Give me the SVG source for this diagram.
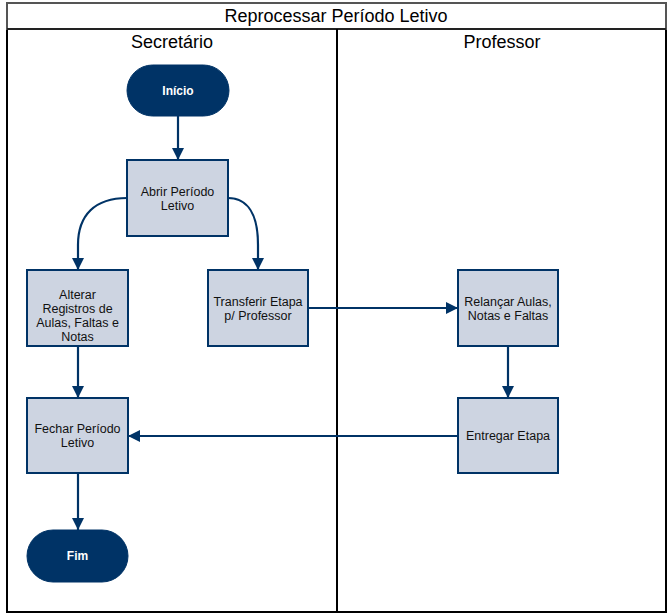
<svg xmlns="http://www.w3.org/2000/svg" width="669" height="615" viewBox="0 0 669 615">
<defs>
<marker id="arr" markerWidth="12" markerHeight="12" refX="12" refY="6" orient="auto" markerUnits="userSpaceOnUse">
<path d="M0,0 L12,6 L0,12 Z" fill="#003366"/>
</marker>
<style>
.lane{fill:none;stroke:#000;stroke-width:2}
.ttl{font-family:"Liberation Sans",Arial,sans-serif;font-size:18px;fill:#000;text-anchor:middle}
.box{fill:#CDD4E1;stroke:#003366;stroke-width:2}
.term{fill:#003366;stroke:#003366;stroke-width:1}
.t{font-family:"Liberation Sans",Arial,sans-serif;font-size:12.5px;fill:#111;text-anchor:middle}
.tw{font-family:"Liberation Sans",Arial,sans-serif;font-size:12px;font-weight:bold;fill:#fff;text-anchor:middle}
.c{fill:none;stroke:#003366;stroke-width:2.2;marker-end:url(#arr)}
</style>
</defs>
<rect x="0" y="0" width="669" height="615" fill="#fff"/>
<g id="pool">
<rect x="7" y="3" width="659" height="609" class="lane"/>
<rect x="7" y="3" width="659" height="26" fill="none" stroke="#555" stroke-width="2"/>
<line x1="7" y1="29" x2="666" y2="29" stroke="#222" stroke-width="2"/>
<line x1="337" y1="29" x2="337" y2="612" stroke="#000" stroke-width="2"/>
<text x="336" y="22" class="ttl">Reprocessar Período Letivo</text>
<text x="172" y="48" class="ttl">Secretário</text>
<text x="502" y="48" class="ttl">Professor</text>
</g>
<g id="connectors">
<path class="c" d="M178,116 L178,160"/>
<path class="c" d="M127,198 C95,198 78,215 78,245 L78,270"/>
<path class="c" d="M228,198 C248,198 258,215 258,245 L258,270"/>
<path class="c" d="M308,308 L458,308"/>
<path class="c" d="M508,346 L508,398"/>
<path class="c" d="M458,436 L128,436"/>
<path class="c" d="M78,346 L78,398"/>
<path class="c" d="M78,473 L78,530"/>
</g>
<g id="inicio">
<rect x="127" y="65" width="102" height="51" rx="25.5" class="term"/>
<text x="178" y="95" class="tw">Início</text>
</g>
<g id="abrir">
<rect x="127" y="160" width="101" height="76" class="box"/>
<text x="177.5" y="196" class="t">Abrir Período</text>
<text x="177.5" y="210" class="t">Letivo</text>
</g>
<g id="alterar">
<rect x="27" y="270" width="101" height="76" class="box"/>
<text x="77.5" y="299" class="t">Alterar</text>
<text x="77.5" y="313" class="t">Registros de</text>
<text x="77.5" y="327" class="t">Aulas, Faltas e</text>
<text x="77.5" y="341" class="t">Notas</text>
</g>
<g id="transferir">
<rect x="208" y="270" width="100" height="76" class="box"/>
<text x="258" y="306" class="t">Transferir Etapa</text>
<text x="258" y="320" class="t">p/ Professor</text>
</g>
<g id="relancar">
<rect x="458" y="270" width="100" height="76" class="box"/>
<text x="508" y="306" class="t">Relançar Aulas,</text>
<text x="508" y="320" class="t">Notas e Faltas</text>
</g>
<g id="entregar">
<rect x="458" y="398" width="100" height="75" class="box"/>
<text x="508" y="440" class="t">Entregar Etapa</text>
</g>
<g id="fechar">
<rect x="27" y="398" width="101" height="75" class="box"/>
<text x="77.5" y="433" class="t">Fechar Período</text>
<text x="77.5" y="447" class="t">Letivo</text>
</g>
<g id="fim">
<rect x="27" y="530" width="101" height="52" rx="26" class="term"/>
<text x="77.5" y="560" class="tw">Fim</text>
</g>
</svg>
